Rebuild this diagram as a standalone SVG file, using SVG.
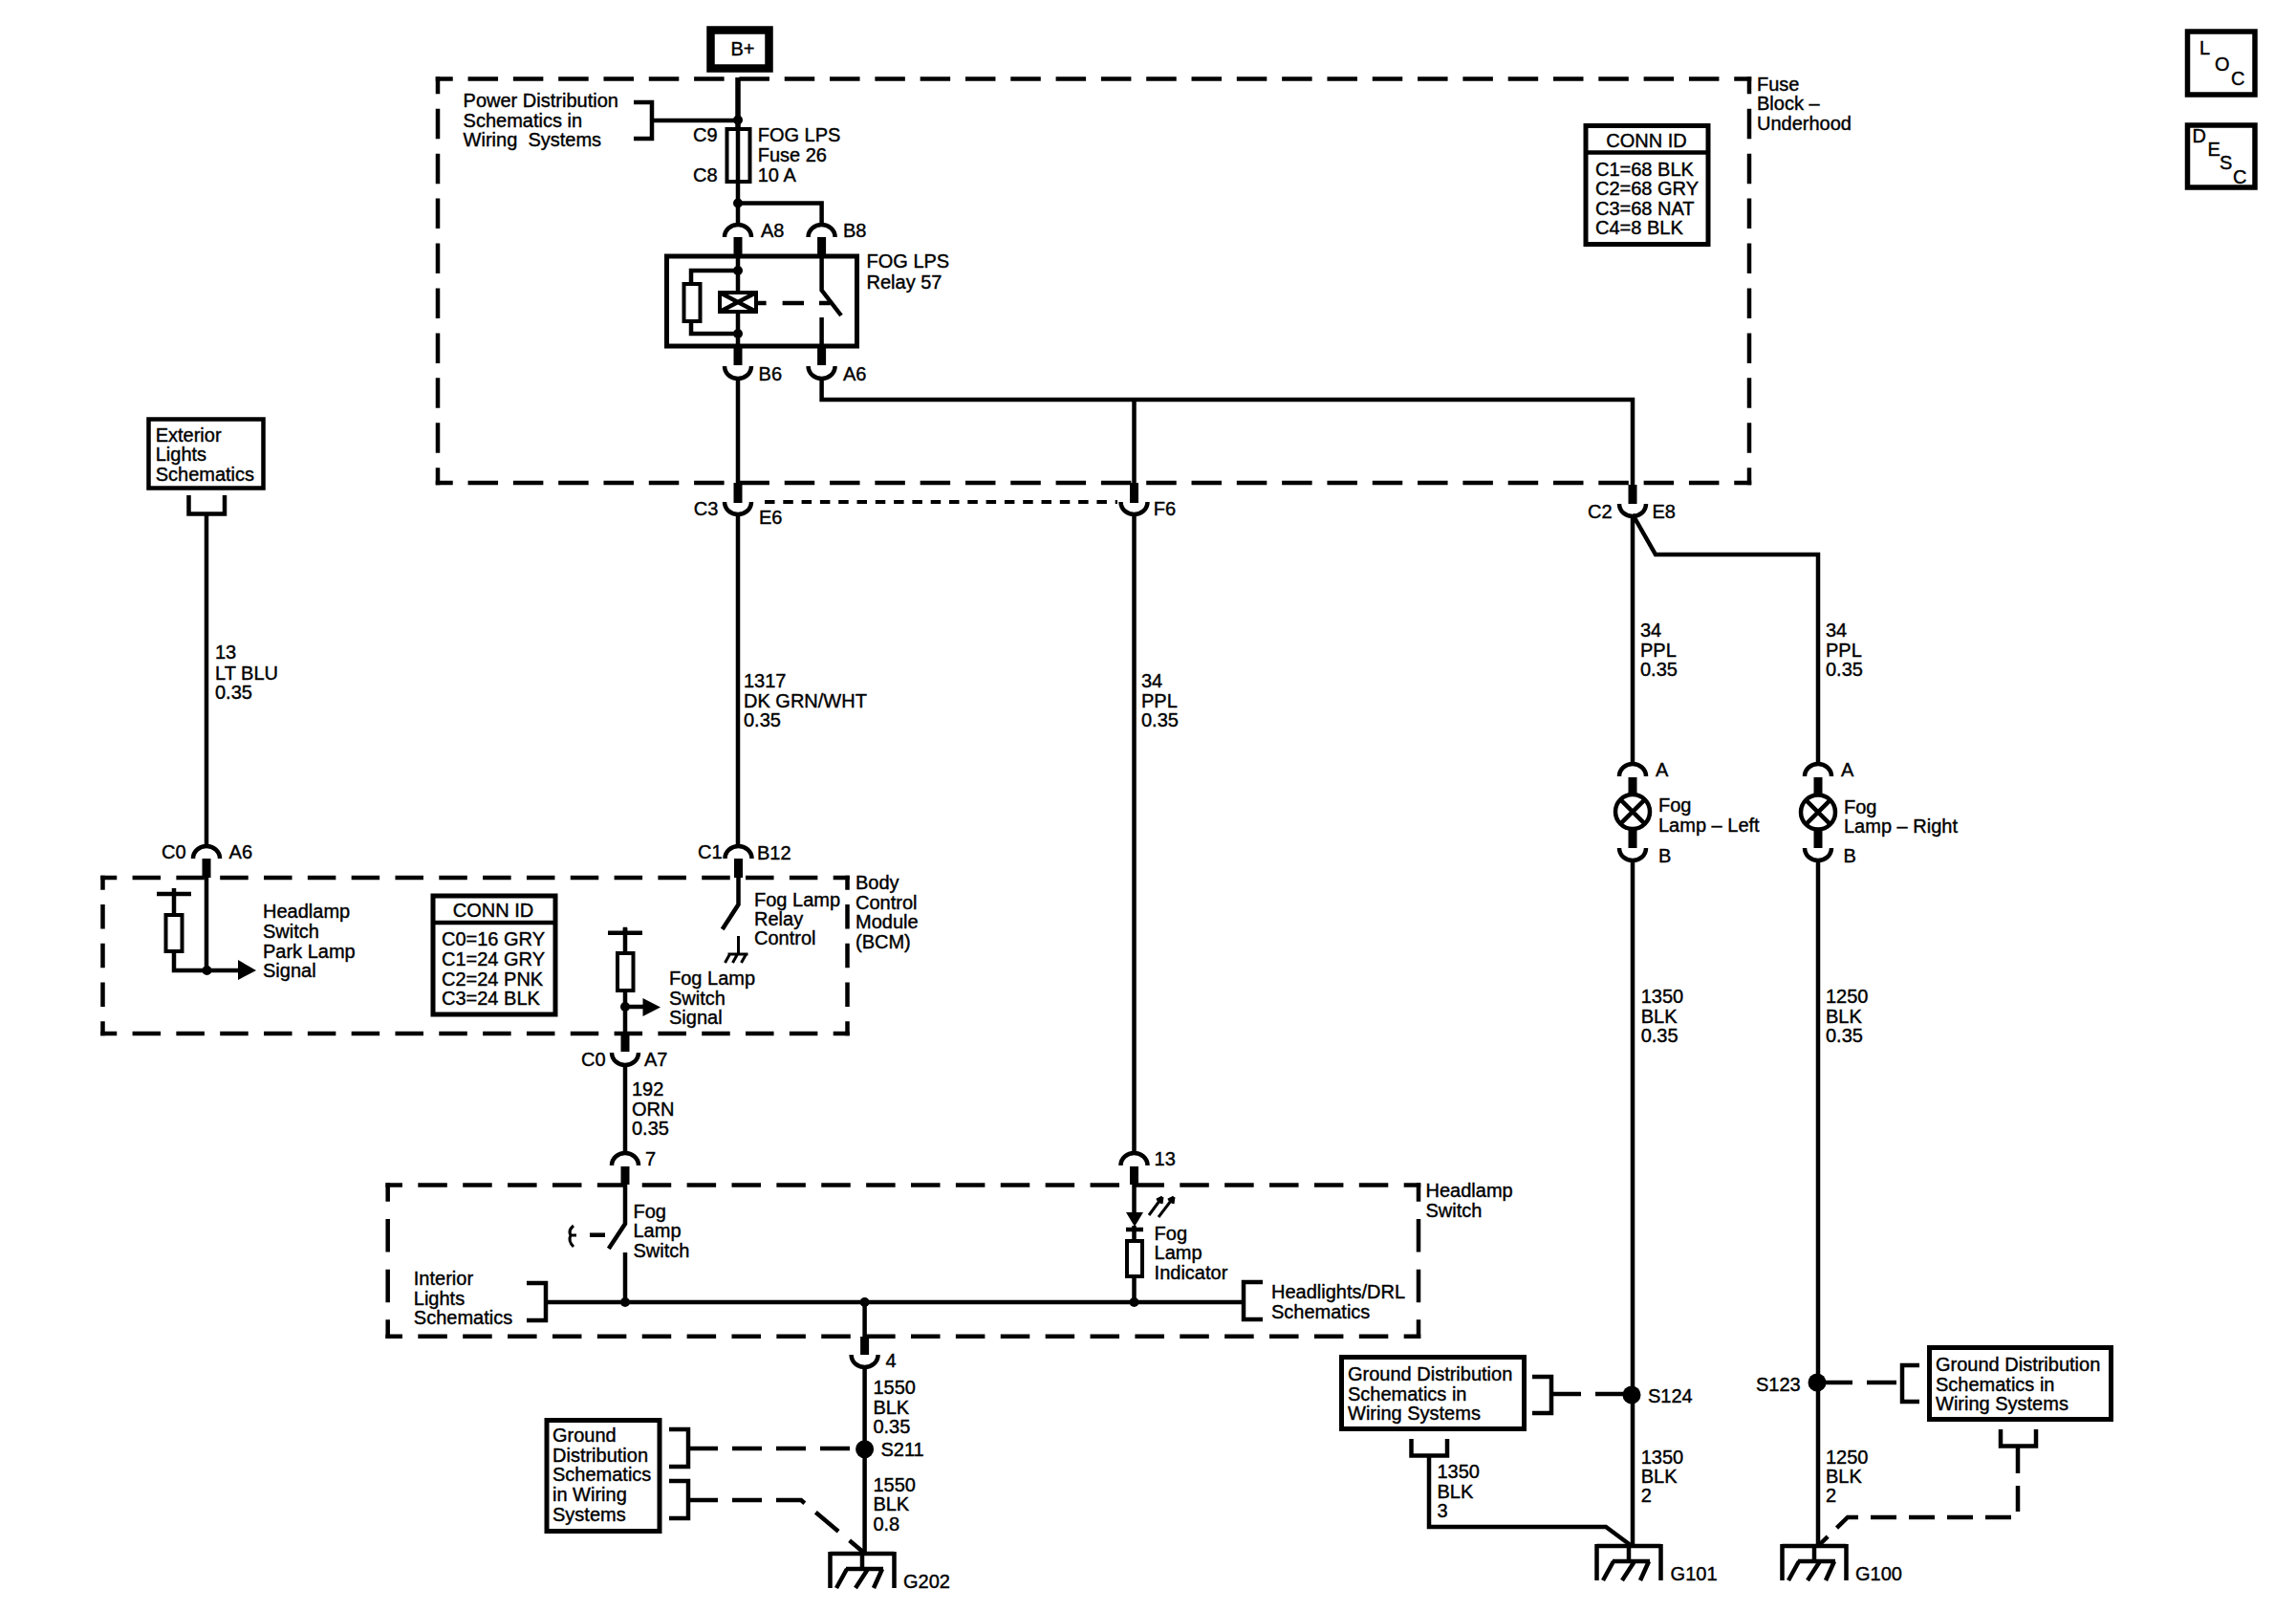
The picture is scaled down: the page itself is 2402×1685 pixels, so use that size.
<svg xmlns="http://www.w3.org/2000/svg" xmlns:xlink="http://www.w3.org/1999/xlink" width="2402" height="1685" viewBox="0 0 2402 1685">
<style>
text{font-family:"Liberation Sans",Arial,sans-serif;font-size:20px;fill:#000;stroke:#000;stroke-width:.4}
.c{text-anchor:middle}
.w{fill:none;stroke:#000;stroke-width:4.5}
.w5{fill:none;stroke:#000;stroke-width:5.5}
.s{fill:none;stroke:#000;stroke-width:9}
.n{fill:none;stroke:#000;stroke-width:3}
.b{fill:none;stroke:#000;stroke-width:4.5}
.rs{fill:#fff;stroke:#000;stroke-width:4}
.a{fill:none;stroke:#000;stroke-width:4.5}
.j{fill:#000}
.d{fill:none;stroke:#000;stroke-width:4.5;stroke-linecap:square}
.fh{stroke-dasharray:27 20.31;stroke-dashoffset:13.5}
.fv{stroke-dasharray:27 19.94;stroke-dashoffset:13.5}
.bh{stroke-dasharray:25 20.82;stroke-dashoffset:12.5}
.bv{stroke-dasharray:21 19.75;stroke-dashoffset:10.5}
.hh{stroke-dasharray:26 20.88;stroke-dashoffset:13}
.hv{stroke-dasharray:30 22.7;stroke-dashoffset:15}
.dl{fill:none;stroke:#000;stroke-width:4.5;stroke-dasharray:31 15}
.dot{fill:none;stroke:#000;stroke-width:4;stroke-dasharray:10.5 8.8}
</style>
<defs>
<path id="cu" class="a" d="M-14 13 C-14 5 -7 0 0 0 C7 0 14 5 14 13"/>
<path id="cd" class="a" d="M-14 0 C-14 8 -7 13 0 13 C7 13 14 8 14 0"/>
<path id="gnd" class="w" d="M-33.5 0 H33.5 M-33.5 -2 V36 M33.5 -2 V36 M0 0 V16 M-17 16 H22 M-16 16 L-27 36 M6 16 L-7 36 M21 16 L12 36"/>
<path id="gs" class="n" d="M0 0 V19 M-11 19 H10 M-9 19 L-14 28 M-1 19 L-6 28 M8 19 L3 28"/>
<path id="hj" class="w" d="M-18 0 H18 M0 -6 V0"/>
</defs>
<rect width="2402" height="1685" fill="#fff"/>

<g id="connectors">
<path class="w5" d="M772 81 V135"/>
<path class="b" d="M663 107 H682 V145 H663"/>
<path class="w" d="M682 126 H772"/>
<path class="w" d="M772 190 V236 M772 212.5 H859.6 V236"/>
<path class="s" d="M772 248 V266 M859.6 248 V266 M772 363 V382 M859.6 363 V382"/>
<path class="w" d="M772 266 V363 M859.6 266 V303.5 L880 330 M859.6 332 V363"/>
<path class="w" d="M772 283 H723 V349 H772"/>
<path class="w" d="M793 317 H801.6 M818.6 317 H841 M857 317 H868.6"/>
<path class="w" d="M772 395 V526 M859.6 395 V418 H1708 V520 M1186.5 418 V520"/>
<path class="s" d="M772 505 V526 M1186.5 505 V526 M1708 507 V527"/>
<path class="dot" d="M800 525 H1169"/>
<path class="w" d="M772 538 V885 M1186.5 538 V1206 M1708 540 V799 M1708 538 L1732 580 H1902 V799"/>
<path class="s" d="M1708 813 V887 M1902 813 V887"/>
<path class="w" d="M1708 899 V1618 M1902 899 V1618"/>
<path class="w" d="M216 539 V885"/>
<path class="s" d="M216 898 V918 M772.5 898 V918 M654 1082 V1100 M654 1220 V1239 M1186.5 1220 V1239 M904.6 1398 V1417"/>
<path class="w" d="M216 918 V1015 M182 935 V956 M182 995 V1015 H252"/>
<path class="w" d="M772.5 918 V946 L755.7 972"/>
<path class="w" d="M654 971 V996 M654 1036 V1082 M654 1053 H674"/>
<path class="w" d="M654 1114 V1206 M654 1239 V1280 L636.8 1306 M654 1310 V1362"/>
<path class="w" d="M1186.5 1239 V1270 M1186.5 1282 V1297 M1186.5 1335 V1362"/>
<path class="w" d="M571 1362 H1301"/>
<path class="w" d="M904.6 1362 V1398 M904.6 1430 V1625"/>
<path class="dl" d="M720 1515 H896"/>
<path class="dl" d="M720 1569 H838 L905 1625"/>
<path class="dl" d="M1623 1458 H1700"/>
<path class="w" d="M1495 1524 V1597 H1680 L1707 1617"/>
<path class="dl" d="M1907 1446 H1990"/>
<path class="dl" style="stroke-dasharray:27 13" d="M2111 1514 V1587 H1933 L1902 1617"/>
<path class="b" d="M617 1291.7 H633"/>
<path class="n" d="M600 1282 Q594 1287 597 1292 Q594 1298 600 1304 M597 1292 H603"/>
</g>

<g id="conn-marks">
<use xlink:href="#cu" href="#cu" x="772" y="235"/>
<use xlink:href="#cu" href="#cu" x="859.6" y="235"/>
<use xlink:href="#cd" href="#cd" x="772" y="383"/>
<use xlink:href="#cd" href="#cd" x="859.6" y="383"/>
<use xlink:href="#cd" href="#cd" x="772" y="525"/>
<use xlink:href="#cd" href="#cd" x="1186.5" y="525"/>
<use xlink:href="#cd" href="#cd" x="1708" y="527"/>
<use xlink:href="#cu" href="#cu" x="1708" y="799"/>
<use xlink:href="#cu" href="#cu" x="1902" y="799"/>
<use xlink:href="#cd" href="#cd" x="1708" y="887"/>
<use xlink:href="#cd" href="#cd" x="1902" y="887"/>
<use xlink:href="#cu" href="#cu" x="216" y="885"/>
<use xlink:href="#cu" href="#cu" x="772.5" y="885"/>
<use xlink:href="#cd" href="#cd" x="654" y="1101"/>
<use xlink:href="#cu" href="#cu" x="654" y="1206"/>
<use xlink:href="#cu" href="#cu" x="1186.5" y="1206"/>
<use xlink:href="#cd" href="#cd" x="904.6" y="1417"/>
</g>

<g id="b-plus"><rect x="743.5" y="31.5" width="61" height="40" fill="#fff" stroke="#000" stroke-width="8.5"/><text x="777" y="58" class="c">B+</text></g>

<g id="fuse-block">
<path class="d fh" d="M458 82.5 H1830"/><path class="d fh" d="M458 505 H1830"/>
<path class="d fv" d="M458 82.5 V505"/><path class="d fv" d="M1830 82.5 V505"/>
<text><tspan x="1838" y="95">Fuse</tspan><tspan x="1838" y="115">Block –</tspan><tspan x="1838" y="136">Underhood</tspan></text>
</g>

<g id="power-distribution"><text><tspan x="484.6" y="112">Power Distribution</tspan><tspan x="484.6" y="132.5">Schematics in</tspan><tspan x="484.6" y="152.5" xml:space="preserve">Wiring  Systems</tspan></text></g>

<g id="fuse-26">
<rect class="rs" x="760.5" y="135" width="24" height="55" stroke-width="5"/>
<path class="w" d="M772 135 V190"/>
<circle class="j" cx="772" cy="125.5" r="5"/><circle class="j" cx="772" cy="212.5" r="5"/>
<text x="725" y="148">C9</text><text x="725" y="190">C8</text>
<text><tspan x="792.7" y="147.5">FOG LPS</tspan><tspan x="792.7" y="168.5">Fuse 26</tspan><tspan x="792.7" y="189.5">10 A</tspan></text>
<text x="796" y="247.5">A8</text><text x="882" y="247.5">B8</text>
</g>

<g id="relay-57">
<rect x="697.5" y="268" width="199" height="94" fill="none" stroke="#000" stroke-width="5"/>
<rect class="rs" x="715.5" y="297" width="17" height="39"/>
<rect class="rs" x="753" y="306" width="38" height="20" stroke-width="5"/>
<path class="w" d="M753 306 L791 326 M791 306 L753 326"/>
<circle class="j" cx="772" cy="283" r="5"/><circle class="j" cx="772" cy="349" r="5"/>
<text><tspan x="906.5" y="280">FOG LPS</tspan><tspan x="906.5" y="302">Relay 57</tspan></text>
<text x="793.6" y="397.5">B6</text><text x="882" y="397.5">A6</text>
</g>

<g id="bulkhead-labels">
<text x="725.7" y="539">C3</text><text x="794" y="547.7">E6</text><text x="1206.7" y="539.3">F6</text>
<text x="1661" y="542">C2</text><text x="1728.5" y="542">E8</text>
</g>

<g id="conn-id-fuse">
<rect x="1659" y="131.5" width="128" height="124" fill="#fff" stroke="#000" stroke-width="5"/>
<path class="b" d="M1659 159.5 H1787"/>
<text x="1722.6" y="154" class="c">CONN ID</text>
<text><tspan x="1669" y="184">C1=68 BLK</tspan><tspan x="1669" y="204">C2=68 GRY</tspan><tspan x="1669" y="225">C3=68 NAT</tspan><tspan x="1669" y="245">C4=8 BLK</tspan></text>
</g>

<g id="loc"><rect x="2288.5" y="33" width="70.5" height="66" fill="#fff" stroke="#000" stroke-width="5.5"/>
<text x="2301" y="57">L</text><text x="2317" y="74">O</text><text x="2334" y="89">C</text></g>
<g id="desc"><rect x="2288.5" y="131" width="70.5" height="65" fill="#fff" stroke="#000" stroke-width="5.5"/>
<text x="2293.5" y="149">D</text><text x="2309.6" y="163">E</text><text x="2322" y="177">S</text><text x="2336" y="192">C</text></g>

<g id="exterior-lights">
<rect x="155.5" y="438.5" width="120" height="72" fill="#fff" stroke="#000" stroke-width="4.5"/>
<text><tspan x="162.7" y="461.7">Exterior</tspan><tspan x="162.7" y="482">Lights</tspan><tspan x="162.7" y="502.7">Schematics</tspan></text>
<path class="b" d="M197.5 518 V537.5 H235 V518"/>
</g>

<g id="wire-labels">
<text><tspan x="225" y="689">13</tspan><tspan x="225" y="710.7">LT BLU</tspan><tspan x="225" y="731">0.35</tspan></text>
<text><tspan x="778" y="719">1317</tspan><tspan x="778" y="740">DK GRN/WHT</tspan><tspan x="778" y="760">0.35</tspan></text>
<text><tspan x="1194" y="719">34</tspan><tspan x="1194" y="740">PPL</tspan><tspan x="1194" y="760">0.35</tspan></text>
<text><tspan x="1716" y="666">34</tspan><tspan x="1716" y="687">PPL</tspan><tspan x="1716" y="707">0.35</tspan></text>
<text><tspan x="1910" y="666">34</tspan><tspan x="1910" y="687">PPL</tspan><tspan x="1910" y="707">0.35</tspan></text>
<text><tspan x="661" y="1146">192</tspan><tspan x="661" y="1167">ORN</tspan><tspan x="661" y="1187">0.35</tspan></text>
<text><tspan x="913.4" y="1458">1550</tspan><tspan x="913.4" y="1479">BLK</tspan><tspan x="913.4" y="1499">0.35</tspan></text>
<text><tspan x="913.4" y="1560">1550</tspan><tspan x="913.4" y="1580">BLK</tspan><tspan x="913.4" y="1601">0.8</tspan></text>
<text><tspan x="1716.7" y="1049">1350</tspan><tspan x="1716.7" y="1069.5">BLK</tspan><tspan x="1716.7" y="1090">0.35</tspan></text>
<text><tspan x="1910" y="1049">1250</tspan><tspan x="1910" y="1069.5">BLK</tspan><tspan x="1910" y="1090">0.35</tspan></text>
<text><tspan x="1716.7" y="1531">1350</tspan><tspan x="1716.7" y="1551">BLK</tspan><tspan x="1716.7" y="1571">2</tspan></text>
<text><tspan x="1910" y="1531">1250</tspan><tspan x="1910" y="1551">BLK</tspan><tspan x="1910" y="1571">2</tspan></text>
<text><tspan x="1503.5" y="1546">1350</tspan><tspan x="1503.5" y="1567">BLK</tspan><tspan x="1503.5" y="1587">3</tspan></text>
</g>

<g id="fog-lamp-left">
<circle cx="1708" cy="849" r="18" fill="#fff" stroke="#000" stroke-width="4.5"/>
<path class="w" d="M1695.3 836.3 L1720.7 861.7 M1720.7 836.3 L1695.3 861.7"/>
<text x="1732" y="812">A</text><text><tspan x="1735" y="849">Fog</tspan><tspan x="1735" y="870">Lamp – Left</tspan></text><text x="1735" y="902">B</text>
</g>
<g id="fog-lamp-right">
<circle cx="1902" cy="849.5" r="18" fill="#fff" stroke="#000" stroke-width="4.5"/>
<path class="w" d="M1889.3 836.8 L1914.7 862.2 M1914.7 836.8 L1889.3 862.2"/>
<text x="1926" y="812">A</text><text><tspan x="1929" y="851">Fog</tspan><tspan x="1929" y="871">Lamp – Right</tspan></text><text x="1928.5" y="902">B</text>
</g>

<g id="bcm">
<path class="d bh" d="M107.5 918 H886.5"/><path class="d bh" d="M107.5 1081 H886.5"/>
<path class="d bv" d="M107.5 918 V1081"/><path class="d bv" d="M886.5 918 V1081"/>
<text><tspan x="895" y="930">Body</tspan><tspan x="895" y="951">Control</tspan><tspan x="895" y="971">Module</tspan><tspan x="895" y="992">(BCM)</tspan></text>
<use xlink:href="#hj" href="#hj" x="182" y="935"/>
<rect class="rs" x="173.5" y="957" width="17" height="38"/>
<circle class="j" cx="216.5" cy="1015" r="5"/>
<polygon class="j" points="249,1004 268,1015 249,1025"/>
<text><tspan x="275" y="960">Headlamp</tspan><tspan x="275" y="981">Switch</tspan><tspan x="275" y="1002">Park Lamp</tspan><tspan x="275" y="1022">Signal</tspan></text>
<use xlink:href="#gs" href="#gs" x="772.5" y="979"/>
<text><tspan x="789" y="948">Fog Lamp</tspan><tspan x="789" y="968">Relay</tspan><tspan x="789" y="988">Control</tspan></text>
<use xlink:href="#hj" href="#hj" x="654" y="975.7"/>
<rect class="rs" x="646" y="997" width="16.5" height="39"/>
<circle class="j" cx="654" cy="1053" r="5"/>
<polygon class="j" points="672.5,1044 691,1053.5 672.5,1063"/>
<text><tspan x="700" y="1030">Fog Lamp</tspan><tspan x="700" y="1050.7">Switch</tspan><tspan x="700" y="1071">Signal</tspan></text>
<text x="169" y="898">C0</text><text x="239.6" y="898">A6</text><text x="730" y="898">C1</text><text x="792" y="899">B12</text>
<text x="608" y="1115">C0</text><text x="674" y="1115">A7</text>
</g>

<g id="conn-id-bcm">
<rect x="453" y="937" width="128" height="124" fill="#fff" stroke="#000" stroke-width="5"/>
<path class="b" d="M453 965 H581"/>
<text x="516" y="959" class="c">CONN ID</text>
<text><tspan x="462" y="989">C0=16 GRY</tspan><tspan x="462" y="1010">C1=24 GRY</tspan><tspan x="462" y="1031">C2=24 PNK</tspan><tspan x="462" y="1051">C3=24 BLK</tspan></text>
</g>

<g id="headlamp-switch">
<path class="d hh" d="M405.7 1239.5 H1484"/><path class="d hh" d="M405.7 1397.7 H1484"/>
<path class="d hv" d="M405.7 1239.5 V1397.7"/><path class="d hv" d="M1484 1239.5 V1397.7"/>
<text><tspan x="1491.5" y="1252">Headlamp</tspan><tspan x="1491.5" y="1273">Switch</tspan></text>
<text x="675" y="1219">7</text><text x="1207.6" y="1219">13</text><text x="926.6" y="1430">4</text>
<text><tspan x="662.5" y="1274">Fog</tspan><tspan x="662.5" y="1294">Lamp</tspan><tspan x="662.5" y="1315">Switch</tspan></text>
<text><tspan x="432.8" y="1344">Interior</tspan><tspan x="432.8" y="1365">Lights</tspan><tspan x="432.8" y="1385">Schematics</tspan></text>
<path class="b" d="M551 1342 H571 V1381 H551"/>
<path class="b" d="M1321 1341 H1301 V1380 H1321"/>
<text><tspan x="1330" y="1358">Headlights/DRL</tspan><tspan x="1330" y="1379">Schematics</tspan></text>
<polygon class="j" points="1178,1268 1196,1268 1187,1283"/>
<path class="w" d="M1178 1286 H1196"/>
<rect class="rs" x="1179" y="1298" width="16" height="37"/>
<path class="n" d="M1202 1271 L1216 1252 M1212 1273 L1228 1252 M1216 1252 L1210 1255 M1216 1252 L1215 1259 M1228 1252 L1222 1255 M1228 1252 L1227 1259"/>
<text><tspan x="1207.6" y="1297">Fog</tspan><tspan x="1207.6" y="1317">Lamp</tspan><tspan x="1207.6" y="1338">Indicator</tspan></text>
<circle class="j" cx="654" cy="1362" r="5"/><circle class="j" cx="904.6" cy="1362" r="5"/><circle class="j" cx="1186.5" cy="1362" r="5"/>
</g>

<g id="ground-g202">
<use xlink:href="#gnd" href="#gnd" x="902" y="1625"/>
<circle class="j" cx="904.6" cy="1515.7" r="9.5"/>
<text x="921.5" y="1523">S211</text><text x="945" y="1661">G202</text>
<rect x="572" y="1485.5" width="118" height="116" fill="#fff" stroke="#000" stroke-width="5"/>
<text><tspan x="578" y="1508">Ground</tspan><tspan x="578" y="1529">Distribution</tspan><tspan x="578" y="1549">Schematics</tspan><tspan x="578" y="1570">in Wiring</tspan><tspan x="578" y="1591">Systems</tspan></text>
<path class="b" d="M700 1495 H720 V1534 H700"/>
<path class="b" d="M700 1549 H720 V1588 H700"/>
</g>

<g id="ground-g101">
<use xlink:href="#gnd" href="#gnd" x="1704" y="1617"/>
<circle class="j" cx="1707" cy="1459" r="9.5"/>
<text x="1724" y="1467">S124</text><text x="1747.6" y="1653">G101</text>
<rect x="1403.5" y="1419.5" width="191" height="75" fill="#fff" stroke="#000" stroke-width="5"/>
<text><tspan x="1410" y="1444">Ground Distribution</tspan><tspan x="1410" y="1465">Schematics in</tspan><tspan x="1410" y="1485">Wiring Systems</tspan></text>
<path class="b" d="M1603 1440 H1623 V1478 H1603"/>
<path class="b" d="M1476.5 1505 V1522.5 H1514 V1505"/>
</g>

<g id="ground-g100">
<use xlink:href="#gnd" href="#gnd" x="1898" y="1617"/>
<circle class="j" cx="1901" cy="1446" r="9.5"/>
<text x="1837" y="1455">S123</text><text x="1941" y="1653">G100</text>
<rect x="2018.5" y="1409.5" width="190" height="75" fill="#fff" stroke="#000" stroke-width="5"/>
<text><tspan x="2025" y="1434">Ground Distribution</tspan><tspan x="2025" y="1455">Schematics in</tspan><tspan x="2025" y="1475">Wiring Systems</tspan></text>
<path class="b" d="M2008 1428 H1990 V1466 H2008"/>
<path class="b" d="M2093 1495 V1512.5 H2130 V1495"/>
</g>
</svg>
